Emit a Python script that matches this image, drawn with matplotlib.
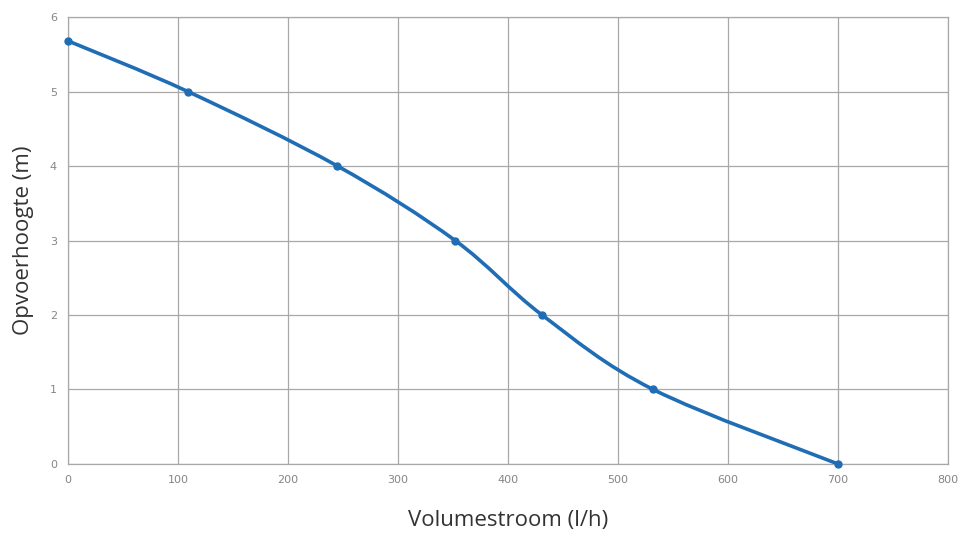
import numpy as np
import matplotlib.pyplot as plt
from matplotlib.path import Path
from matplotlib.patches import PathPatch

# pump curve
flow = [0, 109, 245, 352, 431, 532, 700]
head = [5.68, 5.0, 4.0, 3.0, 2.0, 1.0, 0.0]

xticks = [0, 100, 200, 300, 400, 500, 600, 700, 800]
yticks = [0, 1, 2, 3, 4, 5, 6]

blue = '#1f6db5'

fig = plt.figure(figsize=(9.6, 5.33), dpi=100)
ax = fig.add_axes([0.0708, 0.1295, 0.9167, 0.8385])

# smooth line through the points (Catmull-Rom as cubic bezier segments)
x = np.array(flow, dtype=float)
y = np.array(head, dtype=float)
n = len(x)
verts = [(x[0], y[0])]
codes = [Path.MOVETO]
for i in range(n - 1):
    x0, y0 = (x[i - 1], y[i - 1]) if i > 0 else (x[i], y[i])
    x3, y3 = (x[i + 2], y[i + 2]) if i + 2 < n else (x[i + 1], y[i + 1])
    c1 = (x[i] + (x[i + 1] - x0) / 6, y[i] + (y[i + 1] - y0) / 6)
    c2 = (x[i + 1] - (x3 - x[i]) / 6, y[i + 1] - (y3 - y[i]) / 6)
    verts += [c1, c2, (x[i + 1], y[i + 1])]
    codes += [Path.CURVE4] * 3
ax.add_patch(PathPatch(Path(verts, codes), facecolor='none', edgecolor=blue,
                       lw=2.6, capstyle='round', joinstyle='round', zorder=3))
ax.plot(flow, head, 'o', color=blue, ms=5, zorder=4, clip_on=False)

ax.set_xlim(0, 800)
ax.set_ylim(0, 6)
ax.set_xticks(xticks)
ax.set_yticks(yticks)
ax.grid(True, color='#a8a8a8', lw=0.9)
ax.set_axisbelow(True)
for s in ax.spines.values():
    s.set_color('#a8a8a8')
    s.set_linewidth(0.9)
ax.tick_params(length=0, pad=8, labelsize=8, labelcolor='#858585')

ax.set_xlabel('Volumestroom (l/h)', fontsize=16, family='Open Sans',
              color='#333333', labelpad=18)
ax.set_ylabel('Opvoerhoogte (m)', fontsize=16, family='Open Sans',
              color='#333333', labelpad=11)

fig.savefig('out.png', dpi=100)
